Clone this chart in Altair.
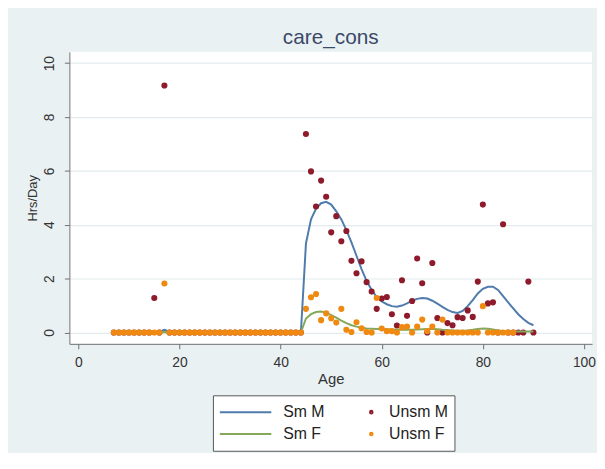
import altair as alt
import pandas as pd

# ---------------- data ----------------
ages = list(range(7, 91))

sm_m = [0, 0, 0, 0, 0, 0, 0, 0, 0, 0.03, 0.10, 0.03, 0, 0, 0, 0, 0, 0, 0, 0,
        0, 0, 0, 0, 0, 0, 0, 0, 0, 0, 0, 0, 0, 0, 0, 0, 0, 0,
        3.30, 4.20, 4.60, 4.80, 4.85, 4.75, 4.50, 4.20, 3.80, 3.35,
        2.85, 2.35, 1.92, 1.58, 1.32, 1.15, 1.05, 0.98, 0.96, 1.00,
        1.08, 1.18, 1.25, 1.28, 1.26, 1.18, 1.07, 0.95, 0.84, 0.76,
        0.73, 0.80, 0.98, 1.20, 1.45, 1.62, 1.70, 1.70, 1.58, 1.35,
        1.12, 0.90, 0.68, 0.50, 0.36, 0.27]

sm_f = [0, 0, 0, 0, 0, 0, 0, 0, 0, 0, 0.02, 0, 0, 0, 0, 0, 0, 0, 0, 0,
        0, 0, 0, 0, 0, 0, 0, 0, 0, 0, 0, 0, 0, 0, 0, 0, 0, 0,
        0.52, 0.68, 0.76, 0.78, 0.74, 0.65, 0.55, 0.44, 0.35, 0.27,
        0.22, 0.18, 0.15, 0.14, 0.13, 0.13, 0.12, 0.11, 0.10, 0.10,
        0.10, 0.10, 0.11, 0.12, 0.13, 0.13, 0.12, 0.10, 0.09, 0.08,
        0.07, 0.07, 0.08, 0.10, 0.13, 0.15, 0.14, 0.11, 0.08, 0.06,
        0.05, 0.04, 0.04, 0.04, 0.04, 0.04]

unsm_m = [0, 0, 0, 0, 0, 0, 0, 0, 1.28, 0, 9.17, 0, 0, 0, 0, 0, 0, 0, 0, 0,
          0, 0, 0, 0, 0, 0, 0, 0, 0, 0, 0, 0, 0, 0, 0, 0, 0, 0,
          7.37, 5.98, 4.68, 5.64, 5.04, 3.72, 4.32, 3.39, 3.77, 2.66,
          2.20, 2.64, 1.87, 1.52, 0.88, 1.26, 1.32, 0.68, 0.26, 1.94,
          0.62, 1.17, 2.75, 1.83, 0, 2.58, 0.54, 0, 0.35, 0.27,
          0.57, 0.54, 0.82, 0.58, 1.89, 4.75, 1.08, 1.12, 0, 4.02,
          0, 0, 0, 0, 1.89, 0]

unsm_f = [0, 0, 0, 0, 0, 0, 0, 0, 0, 0, 1.82, 0, 0, 0, 0, 0, 0, 0, 0, 0,
          0, 0, 0, 0, 0, 0, 0, 0, 0, 0, 0, 0, 0, 0, 0, 0, 0, 0,
          0.88, 1.31, 1.43, 0.46, 0.71, 0.53, 0.37, 0.88, 0.10, 0.02,
          0.38, 0.16, 0.02, 0, 1.28, 0.15, 0.05, 0.05, 0, 0.20,
          0.22, 0, 0.22, 0.48, 0.05, 0.22, 0, 0.48, 0, 0,
          0, 0, 0, 0, 0, 0.98, 0, 0, 0, 0,
          0, 0, None, None, None, None]

# legend is filled column by column: (Sm M, Sm F) then (Unsm M, Unsm F)
series_order = ["Sm M", "Sm F", "Unsm M", "Unsm F"]
series_colors = ["#4f7cac", "#86a85a", "#8e1b2c", "#f0890f"]
x_ticks = [0, 20, 40, 60, 80, 100]
y_ticks = [0, 2, 4, 6, 8, 10]


def frame(vals, name):
    df = pd.DataFrame({"age": ages, "value": vals, "series": name})
    return df.dropna()


# legend / marker glyphs: a line, and a small dot placed at the right of its slot
LINE_PATH = "M-1,0L1,0"
DOT_PATH = "M0.719,0A0.05,0.05 0 1,0 0.819,0A0.05,0.05 0 1,0 0.719,0Z"
shape_range = [LINE_PATH, LINE_PATH, DOT_PATH, DOT_PATH]

FONT = "Liberation Sans"

legend = alt.Legend(
    title=None, orient="none", legendX=145, legendY=347,
    columns=2, columnPadding=0, rowPadding=0, clipHeight=22,
    symbolSize=2704, symbolStrokeWidth=2, symbolOpacity=1,
    labelOffset=11, labelFontSize=16, labelFont=FONT, labelColor="#222222",
    labelLimit=200, padding=6, fillColor="#ffffff", strokeColor="#555555",
)

x_enc = alt.X(
    "age:Q",
    scale=alt.Scale(domain=[-1.8, 101.6], nice=False, zero=False),
    axis=alt.Axis(
        values=x_ticks, title="Age", grid=False, format="d",
        domainColor="#707070", tickColor="#707070", tickSize=5,
        labelFont=FONT, labelFontSize=14, labelColor="#333333", labelPadding=7,
        titleFont=FONT, titleFontSize=15, titleFontWeight="normal",
        titleColor="#333333", titlePadding=2,
    ),
)
y_enc = alt.Y(
    "value:Q",
    scale=alt.Scale(domain=[-0.42, 10.42], nice=False, zero=False),
    axis=alt.Axis(
        values=y_ticks, title="Hrs/Day", grid=True, gridColor="#e1ebee",
        gridWidth=1.2, format="d",
        domainColor="#707070", tickColor="#707070", tickSize=5,
        labelFont=FONT, labelFontSize=14, labelColor="#333333",
        labelAngle=270, labelAlign="center", labelBaseline="bottom",
        labelPadding=8,
        titleFont=FONT, titleFontSize=13, titleFontWeight="normal",
        titleColor="#333333", titleX=-37, titleY=147.5, titleAngle=270,
        titleAlign="center", titleBaseline="middle",
    ),
)
stroke_enc = alt.Stroke(
    "series:N",
    scale=alt.Scale(domain=series_order, range=series_colors),
    legend=legend,
)
shape_enc = alt.Shape(
    "series:N",
    scale=alt.Scale(domain=series_order, range=shape_range),
    legend=legend,
)


def line_layer(vals, name):
    return alt.Chart(frame(vals, name)).mark_line(strokeWidth=2).encode(
        x=x_enc, y=y_enc, stroke=stroke_enc
    )


def point_layer(vals, name):
    return alt.Chart(frame(vals, name)).mark_point(
        filled=False, opacity=1, strokeWidth=3.1, size=3844, xOffset=-23.84
    ).encode(x=x_enc, y=y_enc, stroke=stroke_enc, shape=shape_enc)


chart = alt.layer(
    line_layer(sm_m, "Sm M"),
    point_layer(unsm_m, "Unsm M"),
    line_layer(sm_f, "Sm F"),
    point_layer(unsm_f, "Unsm F"),
).properties(
    width=528,
    height=295,
    title=alt.TitleParams(
        "care_cons", font=FONT, fontSize=21, fontWeight="normal",
        color="#3a4a68", anchor="middle", frame="group", offset=3,
        baseline="bottom", dy=20,
    ),
    autosize=alt.AutoSizeParams(type="none"),
    padding={"left": 62, "top": 42, "right": 5, "bottom": 108},
).configure(
    background="#e9f1f3",
).configure_view(
    fill="#ffffff", stroke=None,
)

chart.save("out.html", embed_options={"renderer": "svg", "actions": False})
